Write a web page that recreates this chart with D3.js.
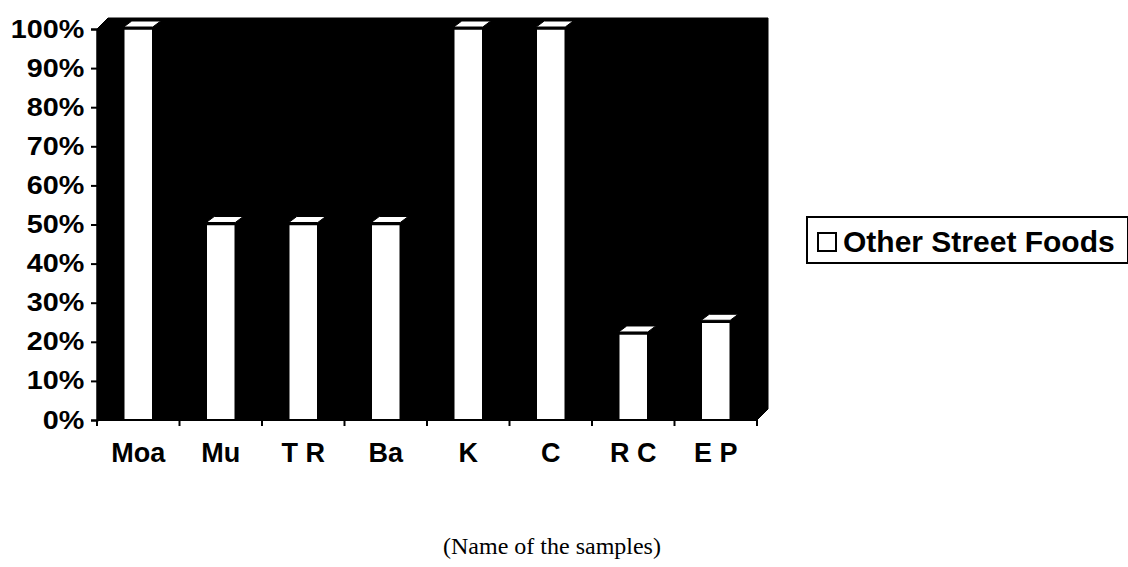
<!DOCTYPE html>
<html>
<head>
<meta charset="utf-8">
<script src="https://cdn.jsdelivr.net/npm/d3@7"></script>
<style>
  html, body { margin: 0; padding: 0; background: #fff; }
  svg { display: block; }
</style>
</head>
<body>
<svg id="chart" width="1128" height="567"></svg>
<script>
// Sample names and the share of other street foods for each
const categories = ["Moa", "Mu", "T R", "Ba", "K", "C", "R C", "E P"];
const values = [100, 50, 50, 50, 100, 100, 22, 25];
const yTicks = [0, 10, 20, 30, 40, 50, 60, 70, 80, 90, 100];
const seriesName = "Other Street Foods";
const axisTitle = "(Name of the samples)";

(function draw() {
  const svg = d3.select("#chart");
  const plotLeft = 97, plotRight = 757, plotTop = 29, plotBottom = 420;
  const depth = 11;           // 3D wall offset
  const barDx = 8, barDy = 6; // bar top face offset
  const sans = "Liberation Sans, Arial, sans-serif";

  const x = d3.scaleBand().domain(categories).range([plotLeft, plotRight]).paddingInner(0).paddingOuter(0);
  const y = d3.scaleLinear().domain([0, 100]).range([plotBottom, plotTop]);

  // Back wall / floor, filled black
  svg.append("path")
    .attr("d", `M${plotLeft},${plotBottom} L${plotLeft},${plotTop} L${plotLeft + depth},${plotTop - depth} L${plotRight + depth},${plotTop - depth} L${plotRight + depth},${plotBottom - depth} L${plotRight},${plotBottom} Z`)
    .attr("fill", "#000").attr("stroke", "#000");

  // Bars
  const barW = 29;
  const g = svg.append("g");
  categories.forEach((c, i) => {
    const v = values[i];
    const x0 = x(c) + (x.bandwidth() - barW) / 2;
    const yv = y(v);
    // front face
    g.append("rect")
      .attr("x", x0).attr("y", yv)
      .attr("width", barW).attr("height", plotBottom - yv)
      .attr("fill", "#fff").attr("stroke", "#000").attr("stroke-width", 1.5);
    // top face
    g.append("path")
      .attr("d", `M${x0},${yv - 2} L${x0 + barW},${yv - 2} L${x0 + barW + barDx},${yv - 2 - barDy} L${x0 + barDx},${yv - 2 - barDy} Z`)
      .attr("fill", "#fff").attr("stroke", "#000").attr("stroke-width", 1);
  });

  // Y axis
  const yAxis = d3.axisLeft(y).tickValues(yTicks).tickFormat(d => d + "%").tickSize(6).tickPadding(5);
  const ya = svg.append("g").attr("transform", `translate(${plotLeft},0)`).call(yAxis);
  ya.select(".domain").attr("stroke", "#000").attr("stroke-width", 2);
  ya.selectAll(".tick line").attr("stroke", "#000").attr("stroke-width", 2);
  ya.selectAll("text")
    .attr("font-family", sans)
    .attr("font-size", 25).attr("font-weight", "bold").attr("fill", "#000")
    .attr("transform", "scale(1.15,1)");

  // X axis line with ticks at category boundaries
  svg.append("line").attr("x1", plotLeft).attr("x2", plotRight).attr("y1", plotBottom).attr("y2", plotBottom)
    .attr("stroke", "#000").attr("stroke-width", 2);
  const bounds = categories.map(c => x(c)).concat([plotRight]);
  svg.selectAll(".xtick").data(bounds).enter().append("line")
    .attr("x1", d => d).attr("x2", d => d).attr("y1", plotBottom).attr("y2", plotBottom + 6)
    .attr("stroke", "#000").attr("stroke-width", 2);
  svg.selectAll(".xlabel").data(categories).enter().append("text")
    .attr("x", d => x(d) + x.bandwidth() / 2).attr("y", 462)
    .attr("text-anchor", "middle")
    .attr("font-family", sans)
    .attr("font-size", 27).attr("font-weight", "bold").attr("fill", "#000")
    .text(d => d);

  // Legend
  const lg = svg.append("g");
  lg.append("rect").attr("x", 807).attr("y", 217).attr("width", 321).attr("height", 46)
    .attr("fill", "#fff").attr("stroke", "#000").attr("stroke-width", 2);
  lg.append("rect").attr("x", 818).attr("y", 233).attr("width", 18).attr("height", 18)
    .attr("fill", "#fff").attr("stroke", "#000").attr("stroke-width", 2);
  lg.append("text").attr("x", 843).attr("y", 252)
    .attr("font-family", sans)
    .attr("font-size", 30).attr("font-weight", "bold").attr("fill", "#000")
    .text(seriesName);

  // Axis title
  svg.append("text").attr("x", 552).attr("y", 554).attr("text-anchor", "middle")
    .attr("font-family", "Liberation Serif, Times New Roman, serif")
    .attr("font-size", 24).attr("fill", "#000")
    .text(axisTitle);
})();
</script>
</body>
</html>
